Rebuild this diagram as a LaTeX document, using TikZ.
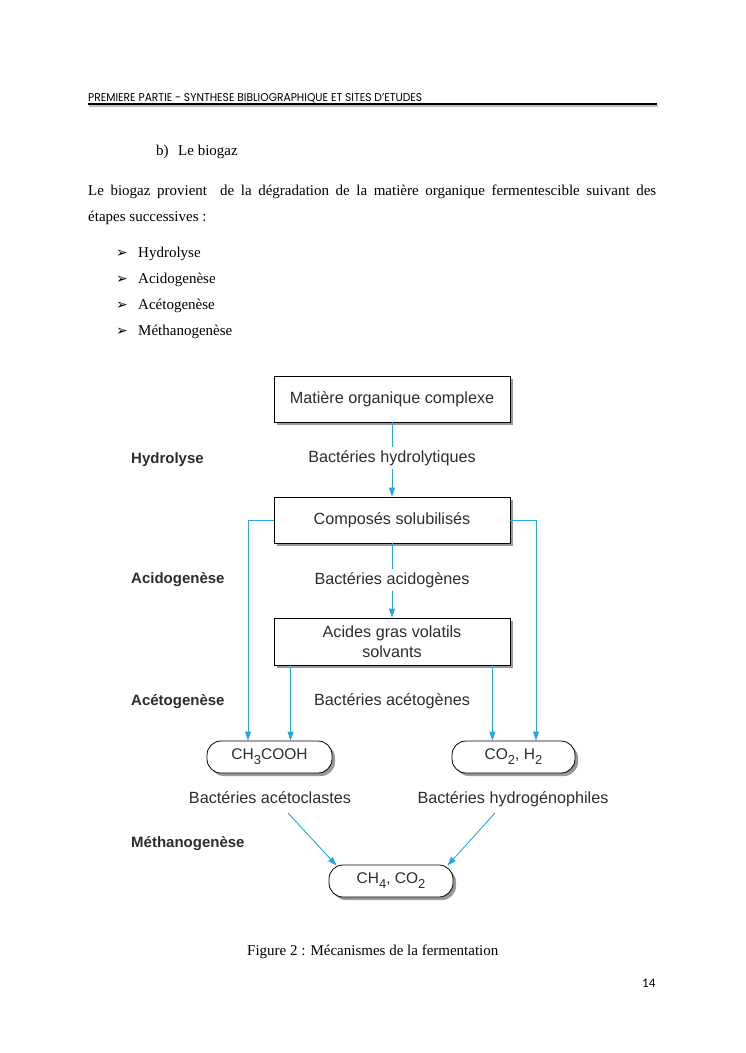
\documentclass[tikz,border=0pt]{standalone}
\usepackage{fontspec}
\setmainfont{Liberation Serif}
\newfontfamily\diagfont{Liberation Sans}
\newfontfamily\headfont{Poppins}
\newfontfamily\numfont{Carlito}
\newfontfamily\symfont{DejaVu Sans}
\usetikzlibrary{arrows.meta,shadows,calc}
\definecolor{arrblue}{RGB}{35,168,224}
\definecolor{txtgray}{RGB}{45,45,45}
\newcommand{\chemsub}[1]{\raisebox{-0.32em}{\fontsize{13}{15}\selectfont #1}}
\begin{document}
\begin{tikzpicture}[x=1pt,y=-1pt,
  body/.style={font=\fontsize{15}{18}\selectfont, inner sep=0, anchor=base west},
  bulletmark/.style={font=\symfont\fontsize{14}{16}\selectfont, inner sep=0, anchor=base west},
  box/.style={draw=black, line width=0.8pt, fill=white, minimum width=236pt, minimum height=46pt, inner sep=0,
    font=\diagfont\fontsize{16.2}{20}\selectfont, text=txtgray, align=center,
    drop shadow={shadow xshift=3pt, shadow yshift=-3pt, fill=black!40, opacity=1}},
  pill/.style={box, rounded corners=14pt, minimum width=124pt, minimum height=32pt, font=\diagfont\fontsize{15.5}{18}\selectfont},
  bact/.style={font=\diagfont\fontsize{16.2}{20}\selectfont, text=txtgray, inner xsep=0, inner ysep=3pt, anchor=base},
  phase/.style={font=\diagfont\bfseries\fontsize{15}{18}\selectfont, text=txtgray, inner sep=0, anchor=base west},
  link/.style={draw=arrblue, line width=0.9pt},
  arr/.style={link, -{Triangle[length=9pt,width=6pt]}},
]
\useasboundingbox[fill=white] (0,0) rectangle (745,1053);

% header
\node[inner sep=0, anchor=base west] (hd) at (88,101.5)
  {\resizebox{334pt}{8pt}{\headfont\fontsize{11}{13}\selectfont PREMIERE PARTIE - SYNTHESE BIBLIOGRAPHIQUE ET SITES D’ETUDES}};
\draw[black!25, line width=1.5pt] (89,106) -- (658,106);
\draw[black, line width=2.4pt] (88,103.8) -- (657,103.8);

% body text
\node[body] (bt) at (156,155) {b)\hspace{9.5pt}Le biogaz};
\node[body] (p1) at (88,195) {\makebox[568pt][s]{Le biogaz provient\ \ de la dégradation de la matière organique fermentescible suivant des}};
\node[body] (p2) at (88,221) {étapes successives :};
\node[bulletmark] (m1) at (116,257) {➢};
\node[body] (l1) at (138,257) {Hydrolyse};
\node[bulletmark] (m2) at (116,283) {➢};
\node[body] (l2) at (138,283) {Acidogenèse};
\node[bulletmark] (m3) at (116,309) {➢};
\node[body] (l3) at (138,309) {Acétogenèse};
\node[bulletmark] (m4) at (116,335) {➢};
\node[body] (l4) at (138,335) {Méthanogenèse};

% diagram nodes
\node[box] (mat) at (392,399) {Matière organique complexe};
\node[bact] (bh) at (392,462) {Bactéries hydrolytiques};
\node[box] (comp) at (392,520) {Composés solubilisés};
\node[bact] (ba) at (392,584) {Bactéries acidogènes};
\node[box, minimum height=47pt] (agv) at (392,641.5) {Acides gras volatils\\solvants};
\node[bact] (bac) at (392,705) {Bactéries acétogènes};
\node[pill, minimum width=125pt] (ac) at (269.5,757) {CH\chemsub{3}COOH};
\node[pill, minimum width=123pt] (co) at (513.5,757) {CO\chemsub{2}, H\chemsub{2}};
\node[bact] (bcl) at (270,803) {Bactéries acétoclastes};
\node[bact] (bhy) at (513,803) {Bactéries hydrogénophiles};
\node[pill] (ch) at (391,881) {CH\chemsub{4}, CO\chemsub{2}};

\node[phase] (ph1) at (131,463) {Hydrolyse};
\node[phase] (ph2) at (131,583) {Acidogenèse};
\node[phase] (ph3) at (131,705) {Acétogenèse};
\node[phase] (ph4) at (131,847) {Méthanogenèse};

% connectors
\draw[link] (mat.south) -- (bh.north);
\draw[arr] (bh.south) -- (comp.north);
\draw[link] (comp.south) -- (ba.north);
\draw[arr] (ba.south) -- (agv.north);
\coordinate (L) at (248,520);
\coordinate (R) at (536,520);
\draw[arr] (comp.west) -- (L) -- (L |- ac.north);
\draw[arr] (comp.east) -- (R) -- (R |- co.north);
\coordinate (AL) at ($(agv.south west)+(17,0)$);
\coordinate (AR) at ($(agv.south east)+(-18,0)$);
\draw[arr] (AL) -- (AL |- ac.north);
\draw[arr] (AR) -- (AR |- co.north);
\coordinate (sA) at (288,813);
\coordinate (sB) at (495,813);
\draw[arr] (sA) -- ($(ch.north west)+(8,1)$);
\draw[arr] (sB) -- ($(ch.north east)+(-6,1)$);

% caption and page number
\node[body] (cap) at (247,955) {Figure 2 : Mécanismes de la fermentation};
\node[inner sep=0, anchor=base west, font=\numfont\fontsize{13}{15}\selectfont] (pg) at (642,987) {14};
\end{tikzpicture}
\end{document}
